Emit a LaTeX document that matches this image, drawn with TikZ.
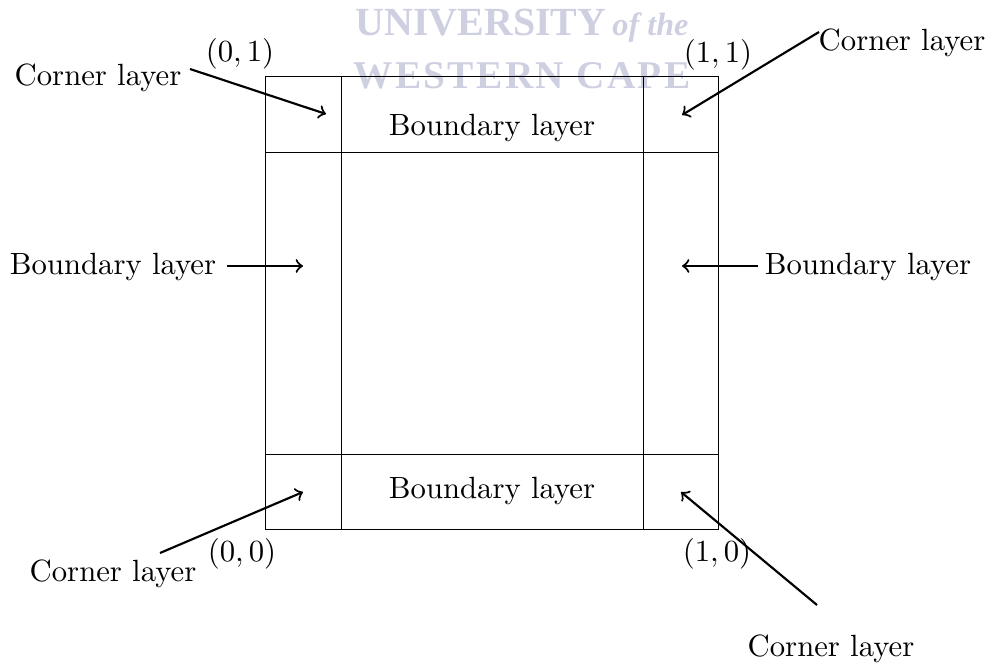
\documentclass[tikz,border=0pt]{standalone}
\usepackage{fontspec}
\newfontfamily\wmfont{Liberation Serif}
\newfontfamily\wmfontsp[LetterSpace=6]{Liberation Serif}
\definecolor{wmcol}{RGB}{206,208,226}
\begin{document}
\begin{tikzpicture}[x=0.3257pt,y=-0.3257pt,
  lbl/.style={inner sep=0pt,font=\fontsize{10}{12}\selectfont},
  wm/.style={inner sep=0pt,text=wmcol,font=\bfseries\fontsize{12.8}{14}\selectfont},
  grid/.style={line width=0.32pt},
  pointer/.style={->,line width=0.7pt}]
\useasboundingbox (0,0) rectangle (993,665);
% watermark
\node[wm,anchor=base west] (wm1) at (355,36) {\wmfont\fontsize{13}{14}\selectfont UNIVERSITY\hspace{2pt}{\fontsize{10.5}{12}\selectfont\itshape of the}};
\node[wm] (wm2) at (522,76) {\wmfontsp WESTERN CAPE};
% square and layers
\coordinate (BL) at (265,529);
\coordinate (TR) at (718,76);
\draw[grid] (BL) rectangle (TR);
\draw[grid] (341,76) -- (341,529);
\draw[grid] (643,76) -- (643,529);
\draw[grid] (265,152) -- (718,152);
\draw[grid] (265,454) -- (718,454);
% labels
\node[lbl] (c01) at (240,54) {$(0,1)$};
\node[lbl] (c11) at (718,55) {$(1,1)$};
\node[lbl] (c00) at (242,554) {$(0,0)$};
\node[lbl] (c10) at (717,554) {$(1,0)$};
\node[lbl] (btop) at (492,128) {Boundary layer};
\node[lbl] (bbot) at (492,491) {Boundary layer};
\node[lbl] (bl) at (113,267) {Boundary layer};
\node[lbl] (br) at (868,267) {Boundary layer};
\node[lbl] (cl1) at (98,78) {Corner layer};
\node[lbl] (cl2) at (902,43) {Corner layer};
\node[lbl] (cl3) at (113,574) {Corner layer};
\node[lbl] (cl4) at (831,649) {Corner layer};
% arrow ends
\coordinate (s1) at (190,69);  \coordinate (e1) at (326,114);
\coordinate (s2) at (819,32);  \coordinate (e2) at (682,115);
\coordinate (s3) at (160,553); \coordinate (e3) at (303,492);
\coordinate (s4) at (817,605); \coordinate (e4) at (681,492);
\coordinate (s5) at (227,266); \coordinate (e5) at (303,266);
\coordinate (s6) at (758,266); \coordinate (e6) at (682,266);
\draw[pointer] (s1) -- (e1);
\draw[pointer] (s2) -- (e2);
\draw[pointer] (s3) -- (e3);
\draw[pointer] (s4) -- (e4);
\draw[pointer] (s5) -- (e5);
\draw[pointer] (s6) -- (e6);
\end{tikzpicture}
\end{document}
